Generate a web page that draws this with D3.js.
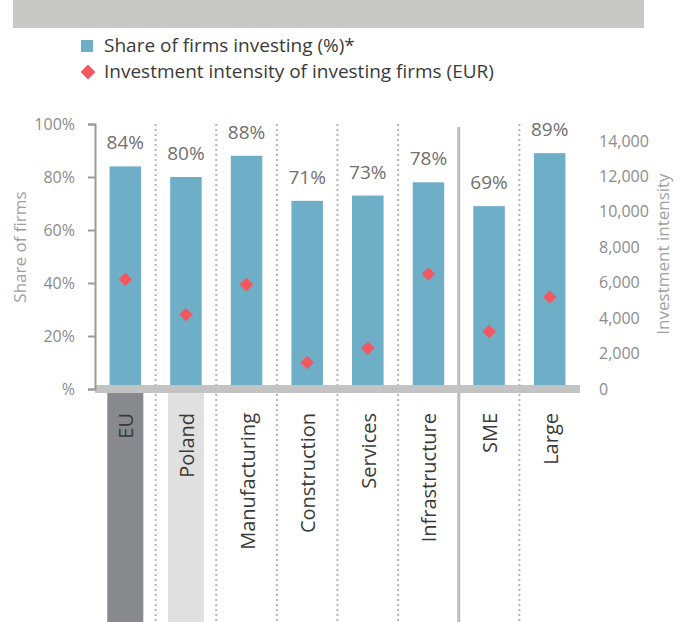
<!DOCTYPE html>
<html>
<head>
<meta charset="utf-8">
<script src="https://cdn.jsdelivr.net/npm/d3@7"></script>
<style>
  body { margin: 0; background: #fff; }
  svg { font-family: "Open Sans", sans-serif; }
</style>
</head>
<body>
<div id="chart"></div>
<script>
const categories = ["EU", "Poland", "Manufacturing", "Construction", "Services", "Infrastructure", "SME", "Large"];
const shareInvesting = [84, 80, 88, 71, 73, 78, 69, 89];
const intensity = [6200, 4200, 5900, 1500, 2300, 6500, 3250, 5200];
const leftTicks = [0, 20, 40, 60, 80, 100];
const rightTicks = [0, 2000, 4000, 6000, 8000, 10000, 12000, 14000];
const legendLabels = ["Share of firms investing (%)*", "Investment intensity of investing firms (EUR)"];

const width = 682, height = 622;
const barColor = "#6eafc7", dotColor = "#f4575f";

const svg = d3.select("#chart").append("svg")
  .attr("width", width)
  .attr("height", height);

// header band
svg.append("rect")
  .attr("x", 13).attr("y", 0)
  .attr("width", 631).attr("height", 28)
  .attr("fill", "#c8c8c6");

// legend
svg.append("rect")
  .attr("x", 81).attr("y", 40)
  .attr("width", 12).attr("height", 12)
  .attr("fill", barColor);
svg.append("path")
  .attr("d", d3.symbol(d3.symbolSquare, 110)())
  .attr("transform", "translate(88,72) rotate(45)")
  .attr("fill", dotColor);
svg.selectAll(".legend-text")
  .data(legendLabels)
  .enter()
  .append("text")
  .attr("x", 104)
  .attr("y", (d, i) => 52 + i * 26)
  .attr("font-size", 19)
  .attr("fill", "#3a3a3a")
  .text(d => d);

// scales
const x = d3.scaleBand()
  .domain(categories)
  .range([95, 580])
  .paddingInner(0.48)
  .paddingOuter(0.24);

const yL = d3.scaleLinear().domain([0, 100]).range([389, 124]);
const yR = d3.scaleLinear().domain([0, 14000]).range([389, 141]);

// highlight boxes under EU and Poland
const highlight = { "EU": "#87898c", "Poland": "#e0e0e0" };
svg.selectAll(".hl")
  .data(categories.filter(c => highlight[c]))
  .enter()
  .append("rect")
  .attr("x", d => x(d) + x.bandwidth() / 2 - 18)
  .attr("y", 393)
  .attr("width", 36)
  .attr("height", height - 393)
  .attr("fill", d => highlight[d]);

// separators between categories
const step = x.step();
const seps = categories.slice(1).map(c => ({ pos: x(c) - (step - x.bandwidth()) / 2, solid: c === "SME" }));
svg.selectAll(".sep")
  .data(seps)
  .enter()
  .append("line")
  .attr("x1", d => d.pos).attr("x2", d => d.pos)
  .attr("y1", d => d.solid ? 127 : 124)
  .attr("y2", height)
  .attr("stroke", d => d.solid ? "#bdbdbd" : "#b4b4b4")
  .attr("stroke-width", d => d.solid ? 3 : 2)
  .attr("stroke-dasharray", d => d.solid ? null : "2,3");

// bars
svg.selectAll(".bar")
  .data(categories)
  .enter()
  .append("rect")
  .attr("x", d => x(d))
  .attr("y", (d, i) => yL(shareInvesting[i]))
  .attr("width", x.bandwidth())
  .attr("height", (d, i) => yL(0) - yL(shareInvesting[i]))
  .attr("fill", barColor);

// baseline
svg.append("rect")
  .attr("x", 95).attr("y", 385)
  .attr("width", 485).attr("height", 8)
  .attr("fill", "#c3c3c3");

// left axis
const axL = svg.append("g")
  .attr("transform", "translate(95,0)")
  .call(d3.axisLeft(yL).tickValues(leftTicks).tickSize(7).tickPadding(13)
    .tickFormat(d => d === 0 ? "%" : d + "%"));
axL.select(".domain").attr("stroke", "#9b9b9b").attr("stroke-width", 2);
axL.selectAll(".tick line").attr("stroke", "#9b9b9b").attr("stroke-width", 2);
axL.selectAll("text")
  .attr("font-size", 16)
  .attr("font-family", "Open Sans, sans-serif")
  .attr("fill", "#8c8c8c");

// right axis
const axR = svg.append("g")
  .attr("transform", "translate(580,0)")
  .call(d3.axisRight(yR).tickValues(rightTicks).tickSize(0).tickPadding(19).tickFormat(d3.format(",")));
axR.select(".domain").remove();
axR.selectAll("text")
  .attr("font-size", 16)
  .attr("font-family", "Open Sans, sans-serif")
  .attr("fill", "#8c8c8c");

// axis titles
svg.append("text")
  .attr("transform", "translate(20,247) rotate(-90)")
  .attr("text-anchor", "middle")
  .attr("dy", "0.35em")
  .attr("font-size", 17)
  .attr("fill", "#a0a0a0")
  .text("Share of firms");
svg.append("text")
  .attr("transform", "translate(663,254) rotate(-90)")
  .attr("text-anchor", "middle")
  .attr("dy", "0.35em")
  .attr("font-size", 17)
  .attr("fill", "#a0a0a0")
  .text("Investment intensity");

// value labels
svg.selectAll(".val")
  .data(categories)
  .enter()
  .append("text")
  .attr("x", d => x(d) + x.bandwidth() / 2)
  .attr("y", (d, i) => yL(shareInvesting[i]) - 17)
  .attr("text-anchor", "middle")
  .attr("font-size", 19)
  .attr("fill", "#707070")
  .text((d, i) => shareInvesting[i] + "%");

// intensity diamonds
svg.selectAll(".dot")
  .data(categories)
  .enter()
  .append("path")
  .attr("d", d3.symbol(d3.symbolSquare, 90)())
  .attr("transform", (d, i) => "translate(" + (x(d) + x.bandwidth() / 2) + "," + yR(intensity[i]) + ") rotate(45)")
  .attr("fill", dotColor);

// category labels
svg.selectAll(".cat")
  .data(categories)
  .enter()
  .append("text")
  .attr("transform", d => "translate(" + (x(d) + x.bandwidth() / 2 + 1) + ",413) rotate(-90)")
  .attr("text-anchor", "end")
  .attr("dy", "0.35em")
  .attr("font-size", 20)
  .attr("fill", "#3a3a3a")
  .text(d => d);
</script>
</body>
</html>
